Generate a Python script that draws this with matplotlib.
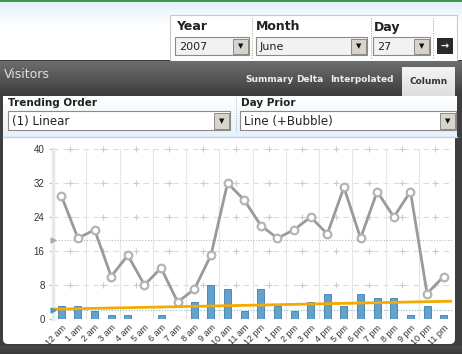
import numpy as np
import matplotlib
matplotlib.use("Agg")
import matplotlib.pyplot as plt
from matplotlib.patches import Rectangle, FancyBboxPatch

# data
hours = ["12 am", "1 am", "2 am", "3 am", "4 am", "5 am", "6 am", "7 am", "8 am", "9 am",
         "10 am", "11 am", "12 pm", "1 pm", "2 pm", "3 pm", "4 pm", "5 pm", "6 pm", "7 pm",
         "8 pm", "9 pm", "10 pm", "11 pm"]
today = [3, 3, 2, 1, 1, 0, 1, 0, 4, 8, 7, 2, 7, 3, 2, 4, 6, 3, 6, 5, 5, 1, 3, 1]
day_prior = [29, 19, 21, 10, 15, 8, 12, 4, 7, 15, 32, 28, 22, 19, 21, 24, 20, 31, 19, 30,
             24, 30, 6, 10]
yticks = [0, 8, 16, 24, 32, 40]
prior_ref = 18.6
today_ref = 2.1

W, H = 462, 354
fig = plt.figure(figsize=(W / 100, H / 100), dpi=100)

# ---- page / widget background drawn in pixel coords ----
bg = fig.add_axes([0, 0, 1, 1])
bg.set_xlim(0, W)
bg.set_ylim(H, 0)
bg.axis("off")

def box(x0, y0, x1, y1, fc, ec="none", lw=0.8, z=1):
    bg.add_patch(Rectangle((x0, y0), x1 - x0, y1 - y0, fc=fc, ec=ec, lw=lw, zorder=z))

def grad(x0, y0, x1, y1, c_top, c_bot, z=1):
    g = np.linspace(0, 1, 50)[:, None, None]
    a = np.array(matplotlib.colors.to_rgb(c_top))
    b = np.array(matplotlib.colors.to_rgb(c_bot))
    img = a * (1 - g) + b * g
    bg.imshow(img, extent=(x0, x1, y1, y0), aspect="auto", zorder=z, interpolation="bilinear")

ui = "DejaVu Sans"

# top header
grad(0, 0, W, 26, "#e2f0fb", "#ffffff", z=0)
box(0, 0, W, 2, "#3f9a3f", z=2)

# date picker box
box(170, 15, 457, 61, "white", "#c8c8c8", lw=0.8, z=2)
for xs in (252, 371, 433):
    bg.plot([xs, xs], [18, 58], color="#999999", lw=0.7, ls=(0, (1, 1.5)), zorder=3)
for x, t in [(176, "Year"), (256, "Month"), (374, "Day")]:
    bg.text(x, 27, t, fontsize=9, fontweight="bold", color="#222222", family=ui,
            va="center", ha="left", zorder=4)

def dropdown(x0, x1, y0, y1, text, fc, fs=8):
    box(x0, y0, x1, y1, fc, "#8a8a8a", lw=0.8, z=3)
    box(x1 - 16, y0 + 1.5, x1 - 1.5, y1 - 1.5, "#d8d4cc", "#7a7a7a", lw=0.6, z=4)
    bg.text(x1 - 8.7, (y0 + y1) / 2 + 0.5, "\u25bc", fontsize=5, color="#111111",
            ha="center", va="center", family=ui, zorder=5)
    bg.text(x0 + 4, (y0 + y1) / 2 + 0.5, text, fontsize=fs, color="#222222", family=ui,
            ha="left", va="center", zorder=5)

dropdown(175, 249, 37, 55, "2007", "#f2f2f2")
dropdown(256, 367, 37, 55, "June", "#f2f2f2")
dropdown(373, 430, 37, 55, "27", "#f2f2f2")
box(437, 38, 453, 54, "#2a2a2a", z=3)
bg.text(445, 46.5, "\u2192", fontsize=7, fontweight="bold", color="white",
        ha="center", va="center", family=ui, zorder=5)

# dark panel
box(0, 60, W, H, "#3e3e3e", z=1)
grad(0, 61, W, 96, "#6e6e6e", "#3c3c3c", z=2)
bg.text(4, 75, "Visitors", fontsize=9, color="#e0e0e0", family=ui,
        ha="left", va="center", zorder=5)
for x, t in [(245, "Summary"), (296, "Delta"), (330, "Interpolated")]:
    bg.text(x, 80, t, fontsize=6.5, fontweight="bold", color="#eeeeee", family=ui,
            ha="left", va="center", zorder=5)
grad(402, 67, 455, 96, "#f4f4f4", "#dedede", z=3)
bg.text(428.5, 82, "Column", fontsize=6.5, fontweight="bold", color="#333333", family=ui,
        ha="center", va="center", zorder=5)

# controls strip
grad(3, 96, 457, 137, "#ffffff", "#e6f1fa", z=3)
bg.plot([3, 457], [136.5, 136.5], color="#b8d6ee", lw=1, zorder=4)
bg.plot([236, 236], [98, 131], color="#9fb4c8", lw=0.7, ls=(0, (1, 1.5)), zorder=4)
bg.text(8, 103, "Trending Order", fontsize=7.5, fontweight="bold", color="#222222",
        family=ui, ha="left", va="center", zorder=5)
bg.text(241, 103, "Day Prior", fontsize=7.5, fontweight="bold", color="#222222",
        family=ui, ha="left", va="center", zorder=5)
dropdown(8, 230, 111, 130, "(1) Linear", "white", fs=8.5)
dropdown(240, 456, 111, 130, "Line (+Bubble)", "white", fs=8.5)

# white chart panel
bg.add_patch(FancyBboxPatch((3, 137), 452, 207, boxstyle="round,pad=0,rounding_size=5",
                            fc="white", ec="none", zorder=3))
box(3, 137, 455, 150, "white", z=3)
grad(0, 346, W, H, "#4a4a4a", "#3a3a3a", z=2)

# ---- chart ----
x0, x1, ytop, ybot = 53, 452, 149, 319
ax = fig.add_axes([x0 / W, 1 - ybot / H, (x1 - x0) / W, (ybot - ytop) / H])
ax.set_facecolor("none")
x = np.arange(len(hours))

# grid
for yv in yticks[1:]:
    ax.axhline(yv, color="#dddddd", lw=0.8, ls=(0, (5, 4)), zorder=0)
    ax.plot(np.arange(0.5, 24, 2), [yv] * 12, ls="none", marker="+", ms=5, mew=0.8,
            color="#cccccc", zorder=0, clip_on=False)
for xv in np.arange(-0.5, 24, 2):
    ax.axvline(xv, color="#e6e6e6", lw=0.8, zorder=0)
ax.axhline(0, color="#cccccc", lw=0.8, ls=(0, (5, 4)), zorder=0)

ax.axhline(prior_ref, color="#bbbbbb", lw=0.8, ls=(0, (1, 1.5)), zorder=1)
ax.axhline(today_ref, color="#8fb8d8", lw=0.8, ls=(0, (1, 1.5)), zorder=1)
ax.plot([-0.5], [prior_ref], marker=">", ms=3.5, color="#aaaaaa", clip_on=False, zorder=5)
ax.plot([-0.5], [today_ref], marker=">", ms=3.5, color="#4f94c4", clip_on=False, zorder=5)

ax.bar(x, today, width=0.42, color="#63a2cc", edgecolor="#3f7ea8", lw=0.6, zorder=2)

ax.plot(x, day_prior, color="#9a9a9a", lw=2, zorder=3, marker="o", ms=5.5,
        mfc="white", mec="#b4b4b4", mew=1.6)

coef = np.polyfit(x, today, 1)
xt = np.array([-0.5, 23.5])
ax.plot(xt, np.polyval(coef, xt), color="#f6aa00", lw=2, zorder=4, solid_capstyle="butt")

ax.set_xlim(-0.5, 23.5)
ax.set_ylim(0, 40)
ax.set_yticks(yticks)
ax.set_yticklabels([str(v) for v in yticks], fontsize=7, color="#333333", family="Liberation Sans")
ax.set_xticks(x)
ax.set_xticklabels(hours, rotation=45, ha="right", rotation_mode="anchor",
                   fontsize=6.5, color="#333333", family="Liberation Sans")
ax.tick_params(axis="x", length=0, pad=3)
ax.tick_params(axis="y", length=3, color="#bbbbbb", pad=3)
for s in ("top", "right", "bottom"):
    ax.spines[s].set_visible(False)
ax.spines["left"].set_color("#e8e8e8")
ax.spines["left"].set_linewidth(2.5)

fig.savefig("out.png", dpi=100)
